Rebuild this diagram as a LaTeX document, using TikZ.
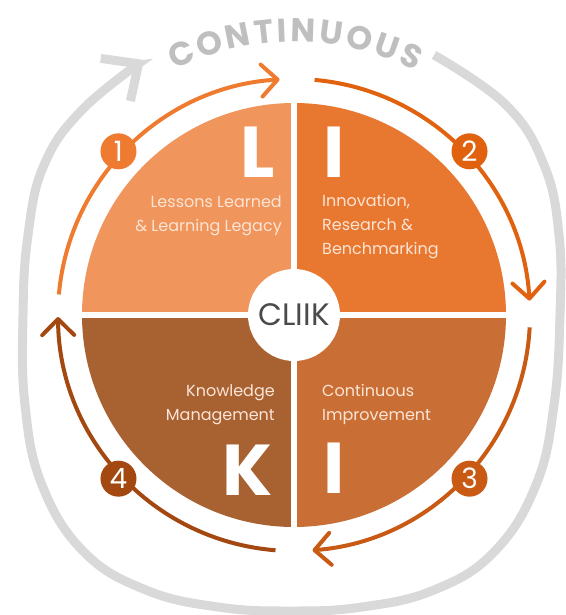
\documentclass[tikz,border=0pt]{standalone}
\usepackage{fontspec}
\setmainfont{Poppins}
\usetikzlibrary{arrows.meta,decorations.text}

\definecolor{quadL}{HTML}{F0955B}
\definecolor{quadIi}{HTML}{E8782F}
\definecolor{quadK}{HTML}{A86232}
\definecolor{quadIii}{HTML}{C96F35}
\definecolor{arrowA}{HTML}{EE7B30}
\definecolor{arrowB}{HTML}{E0610E}
\definecolor{arrowC}{HTML}{C85A14}
\definecolor{arrowD}{HTML}{A34810}
\definecolor{ringgray}{HTML}{D9D9D9}
\definecolor{contgray}{HTML}{BFBFBF}
\definecolor{cliikgray}{HTML}{4A4A4A}
\definecolor{labelcream}{HTML}{FCE4D6}

\newcommand\contfont{\fontsize{33}{33}\selectfont\bfseries}

\tikzset{
  quad label/.style={text=labelcream, font=\fontsize{16}{24}\selectfont, inner sep=0pt},
  big letter/.style={text=white, font=\fontsize{72}{72}\selectfont\bfseries, inner sep=0pt},
  num circle/.style={circle, inner sep=0pt, minimum size=36pt, text=white, font=\fontsize{28}{28}\selectfont},
  cycle arrow/.style={line width=4pt, -{Straight Barb[length=16pt,width=32pt,round]}},
}

\begin{document}
\begin{tikzpicture}[x=1pt,y=1pt]
	\useasboundingbox (-294,-300) rectangle (271,315);
	
	% outer grey loop
	\draw[ringgray, line width=9pt, -{Straight Barb[length=28pt,width=52pt]}]
	  plot[smooth, tension=0.7] coordinates {(140,260) (212,210) (250,150) (265,80) (266,0) (260,-90) (242,-170) (200,-237) (140,-275) (68,-292) (-4,-296) (-76,-292) (-148,-275) (-210,-237) (-252,-170) (-269,-90) (-271,0) (-266,80) (-250,150) (-212,205) (-150,255)};
	\path[decorate, decoration={text along path, text={|\contfont|CONTINUOUS}, text align=fit to path, text color=contgray}]
	  (116:273) arc[start angle=116, end angle=63.5, radius=273];
	
	% quadrants
	\fill[quadL]   (0,0) -- (180:212) arc[start angle=180, end angle=90,  radius=212] -- cycle;
	\fill[quadIi]  (0,0) -- (90:212)  arc[start angle=90,  end angle=0,   radius=212] -- cycle;
	\fill[quadIii] (0,0) -- (0:212)   arc[start angle=0,   end angle=-90, radius=212] -- cycle;
	\fill[quadK]   (0,0) -- (-90:212) arc[start angle=-90, end angle=-180,radius=212] -- cycle;
	\draw[white, line width=6pt] (-215,0) -- (215,0) (0,-215) -- (0,215);
	\node[circle, fill=white, minimum size=92pt, inner sep=0pt, text=cliikgray, font=\fontsize{31}{31}\selectfont] (hub) at (0,0) {CLIIK};
	
	\node[big letter, anchor=base east] (bigL)  at (-19,137)  {L};
	\node[big letter, anchor=base west] (bigIi) at (29,137)   {I};
	\node[big letter, anchor=base east] (bigK)  at (-21,-180) {K};
	\node[big letter, anchor=base west] (bigIii) at (29,-178) {I};
	
	% label base = last line
	\node[quad label, align=right, anchor=base east] (txtL)   at (-12,83)   {Lessons Learned\\\& Learning Legacy};
	\node[quad label, align=left,  anchor=base west] (txtIi)  at (28,60)    {Innovation,\\Research \&\\Benchmarking};
	\node[quad label, align=right, anchor=base east] (txtK)   at (-19,-105) {Knowledge\\Management};
	\node[quad label, align=left,  anchor=base west] (txtIii) at (28,-105)  {Continuous\\Improvement};
	
	% cycle arrows
	\draw[cycle arrow, arrowA] (175:236)   arc[start angle=175,   end angle=93.5,   radius=236];
	\draw[cycle arrow, arrowB] (85:236)    arc[start angle=85,    end angle=3.5,    radius=236];
	\draw[cycle arrow, arrowC] (-3:236)    arc[start angle=-3,    end angle=-85.5,  radius=236];
	\draw[cycle arrow, arrowD] (-94.5:236) arc[start angle=-94.5, end angle=-179.5, radius=236];
	
	\node[num circle, fill=arrowA] (n1) at (137:240)  {1};
	\node[num circle, fill=arrowB] (n2) at (43:240)   {2};
	\node[num circle, fill=arrowC] (n3) at (-43:240)  {3};
	\node[num circle, fill=arrowD] (n4) at (-137:240) {4};
	
\end{tikzpicture}
\end{document}
